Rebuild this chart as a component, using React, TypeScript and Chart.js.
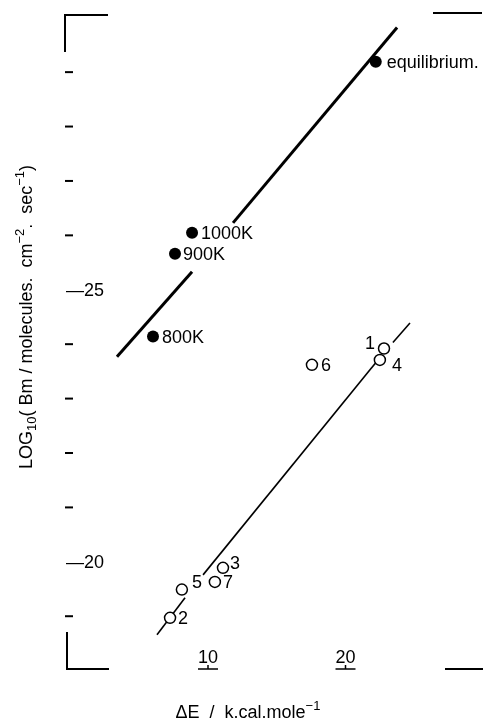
import React, { useEffect, useRef } from "react";
import { Chart, registerables } from "chart.js";
Chart.register(...registerables);

// ---- axis ranges and ticks ----
const xMin = -0.4;
const xMax = 30;
const yMin = -30.05;
const yMax = -18.03;
const yTickValues = [-29, -28, -27, -26, -25, -24, -23, -22, -21, -20, -19];
const yLabeledValues = [-25, -20];
const yTickLabels = ["—25", "—20"];
const xTickValues = [10, 20];
const xTickLabels = ["10", "20"];

// ---- filled points (upper series) ----
const filledLabels = ["800K", "900K", "1000K", "equilibrium."];
const filledX = [6.0, 7.6, 8.84, 22.2];
const filledY = [-24.14, -25.66, -26.05, -29.19];

// ---- open points (lower series) ----
const openLabels = ["1", "2", "3", "4", "5", "6", "7"];
const openX = [22.8, 7.24, 11.09, 22.5, 8.1, 17.56, 10.5];
const openY = [-23.92, -18.97, -19.89, -23.71, -19.49, -23.62, -19.63];

// ---- fitted lines (drawn in pieces, broken where labels sit) ----
const upperLineAX = [3.38, 8.84];
const upperLineAY = [-23.77, -25.33];
const upperLineBX = [11.82, 23.75];
const upperLineBY = [-26.23, -29.82];
const lowerLineAX = [6.29, 8.33];
const lowerLineAY = [-18.66, -19.34];
const lowerLineBX = [9.64, 22.36];
const lowerLineBY = [-19.76, -23.71];
const lowerLineCX = [23.45, 24.69];
const lowerLineCY = [-24.03, -24.39];

const yTitleRuns = [
  { t: "LOG", s: 18, d: 0 },
  { t: "10", s: 13, d: 5 },
  { t: "( Bm / molecules.  cm", s: 18, d: 0 },
  { t: "−2", s: 13, d: -7 },
  { t: ".  sec", s: 18, d: 0 },
  { t: "−1", s: 13, d: -7 },
  { t: ")", s: 18, d: 0 },
];
const xTitleRuns = [
  { t: "ΔE  /  k.cal.mole", s: 18, d: 0 },
  { t: "−1", s: 13, d: -7 },
];

const FONT = "'Liberation Sans', Arial, sans-serif";

const pts = (xs: number[], ys: number[]) => xs.map((x, i) => ({ x, y: ys[i] }));

// label placement (pixel offsets from mark, align)
const filledLabelStyle = [
  { dx: 9, dy: 0, align: "left" },
  { dx: 8, dy: 0, align: "left" },
  { dx: 9, dy: 0, align: "left" },
  { dx: 11, dy: 0, align: "left" },
];
const openLabelStyle = [
  { dx: -9, dy: -5, align: "right" },
  { dx: 8, dy: 0, align: "left" },
  { dx: 7, dy: -5, align: "left" },
  { dx: 12, dy: 5, align: "left" },
  { dx: 10, dy: -8, align: "left" },
  { dx: 9, dy: 0, align: "left" },
  { dx: 8, dy: 0, align: "left" },
];

function drawRuns(ctx: CanvasRenderingContext2D, runs: any[], cx: number, cy: number) {
  let total = 0;
  for (const r of runs) {
    ctx.font = `${r.s}px ${FONT}`;
    total += ctx.measureText(r.t).width;
  }
  let x = cx - total / 2;
  ctx.textAlign = "left";
  ctx.textBaseline = "middle";
  for (const r of runs) {
    ctx.font = `${r.s}px ${FONT}`;
    ctx.fillText(r.t, x, cy + r.d);
    x += ctx.measureText(r.t).width;
  }
}

const decorPlugin = {
  id: "decor",
  afterDatasetsDraw(chart: any) {
    const ctx: CanvasRenderingContext2D = chart.ctx;
    const { left, right, top, bottom } = chart.chartArea;
    const xs = chart.scales.x;
    const ys = chart.scales.y;
    ctx.save();
    ctx.strokeStyle = "#000";
    ctx.fillStyle = "#000";
    ctx.lineCap = "butt";
    ctx.lineWidth = 2;
    // frame corners
    ctx.beginPath();
    ctx.moveTo(left, top + 37);
    ctx.lineTo(left, top);
    ctx.lineTo(left + 43, top);
    ctx.moveTo(right - 50, top - 2);
    ctx.lineTo(right - 1, top - 2);
    ctx.moveTo(right - 38, bottom);
    ctx.lineTo(right, bottom);
    ctx.moveTo(left + 2, bottom - 37);
    ctx.lineTo(left + 2, bottom);
    ctx.lineTo(left + 44, bottom);
    ctx.stroke();

    // y ticks
    ctx.font = `18px ${FONT}`;
    ctx.textBaseline = "middle";
    ctx.textAlign = "left";
    yTickValues.forEach((v) => {
      const py = ys.getPixelForValue(v);
      const li = yLabeledValues.indexOf(v);
      if (li >= 0) {
        ctx.fillText(yTickLabels[li], left + 1, py + 1);
      } else {
        ctx.beginPath();
        ctx.moveTo(left, py);
        ctx.lineTo(left + 8, py);
        ctx.stroke();
      }
    });

    // x ticks
    ctx.textAlign = "center";
    ctx.textBaseline = "alphabetic";
    xTickValues.forEach((v, i) => {
      const px = xs.getPixelForValue(v);
      ctx.beginPath();
      ctx.moveTo(px - 10, bottom);
      ctx.lineTo(px + 10, bottom);
      ctx.moveTo(px, bottom);
      ctx.lineTo(px, bottom - 4);
      ctx.lineWidth = 1.5;
      ctx.stroke();
      ctx.fillText(xTickLabels[i], px, bottom - 6);
    });

    // point labels
    ctx.font = `18px ${FONT}`;
    ctx.textBaseline = "middle";
    const m0 = chart.getDatasetMeta(0).data;
    filledLabels.forEach((lab, i) => {
      const st = filledLabelStyle[i];
      ctx.textAlign = st.align as CanvasTextAlign;
      ctx.fillText(lab, m0[i].x + st.dx, m0[i].y + st.dy + 1);
    });
    const m1 = chart.getDatasetMeta(1).data;
    openLabels.forEach((lab, i) => {
      const st = openLabelStyle[i];
      ctx.textAlign = st.align as CanvasTextAlign;
      ctx.fillText(lab, m1[i].x + st.dx, m1[i].y + st.dy + 1);
    });

    // axis titles
    drawRuns(ctx, xTitleRuns, 248, 713);
    ctx.save();
    ctx.translate(27, 317);
    ctx.rotate(-Math.PI / 2);
    drawRuns(ctx, yTitleRuns, 0, 0);
    ctx.restore();
    ctx.restore();
  },
};

export default function App() {
  const ref = useRef<HTMLCanvasElement | null>(null);
  useEffect(() => {
    if (!ref.current) return;
    const lineDs = (xs: number[], ys: number[], w: number) => ({
      type: "scatter",
      data: pts(xs, ys),
      showLine: true,
      borderColor: "#000",
      borderWidth: w,
      pointRadius: 0,
      fill: false,
    });
    const chart = new Chart(ref.current, {
      type: "scatter",
      data: {
        datasets: [
          {
            data: pts(filledX, filledY),
            pointRadius: 6,
            pointBackgroundColor: "#000",
            pointBorderColor: "#000",
            pointBorderWidth: 0,
          },
          {
            data: pts(openX, openY),
            pointRadius: 5.5,
            pointBackgroundColor: "#fff",
            pointBorderColor: "#000",
            pointBorderWidth: 1.5,
          },
          lineDs(upperLineAX, upperLineAY, 3),
          lineDs(upperLineBX, upperLineBY, 3),
          lineDs(lowerLineAX, lowerLineAY, 1.6),
          lineDs(lowerLineBX, lowerLineBY, 1.6),
          lineDs(lowerLineCX, lowerLineCY, 1.6),
        ] as any,
      },
      options: {
        animation: false,
        responsive: false,
        devicePixelRatio: 1,
        layout: { padding: { left: 65, top: 15, right: 12, bottom: 55 } },
        scales: {
          x: { type: "linear", min: xMin, max: xMax, display: false },
          y: { type: "linear", min: yMin, max: yMax, reverse: true, display: false },
        },
        plugins: { legend: { display: false }, tooltip: { enabled: false } },
      } as any,
      plugins: [decorPlugin],
    });
    return () => chart.destroy();
  }, []);
  return (
    <div style={{ position: "absolute", left: 0, top: 0, width: 495, height: 724, background: "#fff" }}>
      <canvas ref={ref} width={495} height={724} style={{ display: "block" }} />
    </div>
  );
}
